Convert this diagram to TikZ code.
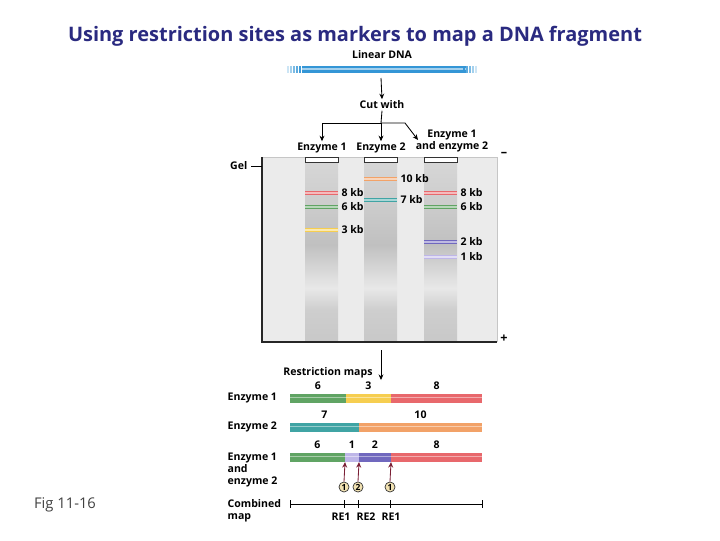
\documentclass[tikz,border=0pt]{standalone}
\usepackage{fontspec}
\setmainfont{Open Sans}
\usetikzlibrary{arrows.meta}
\definecolor{titleblue}{RGB}{42,42,128}
\definecolor{dnablue}{RGB}{52,150,214}
\definecolor{gelbg}{RGB}{235,235,235}
\definecolor{lnT}{RGB}{214,214,214}
\definecolor{lnB}{RGB}{206,206,206}
\definecolor{lnD}{RGB}{192,192,192}
\definecolor{lnL}{RGB}{232,232,232}
\definecolor{lnC}{RGB}{200,200,200}
\definecolor{cred}{RGB}{232,104,108}
\definecolor{cgreen}{RGB}{96,164,100}
\definecolor{cyellow}{RGB}{246,206,80}
\definecolor{corange}{RGB}{242,162,104}
\definecolor{cteal}{RGB}{64,164,164}
\definecolor{cpurple}{RGB}{112,104,190}
\definecolor{clav}{RGB}{190,182,232}
\definecolor{sitered}{RGB}{122,31,53}
\definecolor{sitefill}{RGB}{242,226,178}
\pgfdeclareverticalshading{lane}{100bp}{color(0bp)=(lnC); color(25bp)=(lnC); color(34bp)=(lnB); color(40bp)=(lnL); color(52bp)=(lnD); color(65bp)=(lnB); color(75bp)=(lnT); color(100bp)=(lnT)}
\tikzset{
	lbl/.style={font=\bfseries\fontsize{7.5}{8.5}\selectfont, inner sep=1pt},
	site/.style={circle, draw=black!80, fill=sitefill, line width=0.5pt, inner sep=0.6pt, font=\bfseries\fontsize{6}{6}\selectfont},
	cut/.style={->, line width=0.6pt}
}
\begin{document}
\begin{tikzpicture}[x=0.025cm, y=-0.025cm, >={Stealth[length=4pt,width=3.5pt]}]
	\useasboundingbox (0,0) rectangle (720,540);
	\node[font=\bfseries\fontsize{14.2}{16}\selectfont, text=titleblue] (title) at (355,36) {Using restriction sites as markers to map a DNA fragment};
	\node[font=\fontsize{10.5}{12}\selectfont, text=black!75] (fig) at (65,505) {Fig 11-16};

	% linear DNA
	\node[lbl] (dna) at (382,55) {Linear DNA};
	\fill[dnablue] (302,66) rectangle (466,73);
	\draw[white!55!dnablue, line width=0.9pt] (302,69) -- (466,69);
	\foreach \i/\o in {0/0.25, 3/0.45, 6/0.65, 9/0.8, 12/0.95}
	{
		\fill[dnablue, opacity=\o] (287+\i,66) rectangle +(1.6,7);
		\fill[dnablue, opacity=\o] (477-\i,66) rectangle +(-1.6,7);
	}
	\coordinate (dnab) at (381,78);
	\node[lbl] (cutw) at (382,105) {Cut with};
	\draw[cut] (dnab) -- (cutw.north);

	% three digests
	\node[lbl] (e1) at (322,148) {Enzyme 1};
	\node[lbl] (e2) at (381,148) {Enzyme 2};
	\node[lbl, align=center] (e12) at (452,141) {Enzyme 1\\and enzyme 2};
	\coordinate (split) at (381,123);
	\coordinate (kink) at (405,123);
	\coordinate (e12in) at (418,140);
	\draw[line width=0.6pt] (cutw.south) -- (split);
	\draw[cut] (split) -| (e1.north);
	\draw[cut] (split) -- (e2.north);
	\draw[cut] (split) -- (kink) -- (e12in);

	% gel
	\fill[gelbg] (262,157) rectangle (497,342);
	\draw[gray!45, line width=0.5pt] (262,157) -- (497,157) -- (497,342);
	\foreach \x in {305, 364, 424}
	{
		\shade[shading=lane] (\x,162) rectangle (\x+33,342);
		\filldraw[fill=white, draw=black!80, line width=0.5pt] (\x,157) rectangle (\x+33,162.5);
	}
	\draw[black!85, line width=0.9pt] (262,157) -- (262,342) -- (497,342);
	\node[lbl, anchor=east] (gel) at (249,166) {Gel};
	\coordinate (gelw) at (262,166);
	\draw[line width=0.6pt] (gel.east) ++(2,0) -- (gelw);
	\node[font=\bfseries\fontsize{9}{9}\selectfont] (minus) at (504,154) {--};
	\node[font=\bfseries\fontsize{9}{9}\selectfont] (plus) at (504,339) {+};

	% bands
	\foreach \x/\y/\c/\t in {305/193/cred/8 kb, 305/207/cgreen/6 kb, 305/230/cyellow/3 kb, 364/179/corange/10 kb, 364/200/cteal/7 kb, 424/193/cred/8 kb, 424/207/cgreen/6 kb, 424/242/cpurple/2 kb, 424/257/clav/1 kb}
	{
		\draw[line width=3pt, \c] (\x,\y) -- +(33,0);
		\draw[line width=0.8pt, \c!45!white] (\x,\y) -- +(33,0);
		\node[lbl, anchor=west] (band\x\y) at (\x+35,\y) {\t};
	}

	% restriction maps
	\coordinate (gelb) at (381,350);
	\node[lbl] (rmaps) at (328,373) {Restriction maps};
	\coordinate (rin) at (381,380);
	\draw[cut] (gelb) -- (rin);
	\node[lbl, anchor=west] (m1) at (226,398) {Enzyme 1};
	\node[lbl, anchor=west] (m2) at (226,427) {Enzyme 2};
	\node[lbl, anchor=north west, align=left] (m12) at (226,451) {Enzyme 1\\and\\enzyme 2};
	\node[lbl, anchor=north west, align=left] (mc) at (226,498) {Combined\\map};
	\foreach \a/\b/\y/\c/\t in {290/346/398/cgreen/6, 346/391/398/cyellow/3, 391/482/398/cred/8, 290/359/427/cteal/7, 359/482/427/corange/10, 290/345/457/cgreen/6, 345/359/457/clav/1, 359/391/457/cpurple/2, 391/482/457/cred/8}
	{
		\fill[\c] (\a,\y-4.5) rectangle (\b,\y+4.5);
		\draw[line width=0.9pt, \c!55!white] (\a,\y-0.5) -- (\b,\y-0.5);
		\node[lbl] (seg\a\y) at ({(\a+\b)/2},\y-12) {\t};
	}

	% sites
	\foreach \x/\n in {344/1, 358/2, 390/1}
	{
		\node[site] (s\x) at (\x,487) {\n};
		\coordinate (t\x) at (\x+1,462);
		\draw[->, sitered, line width=0.6pt] (s\x.north) -- (t\x);
	}

	% combined map
	\draw[line width=0.6pt] (290,504) -- (482,504);
	\foreach \x in {290, 344, 358, 390, 482}
		\draw[line width=0.6pt] (\x,500) -- (\x,508);
	\foreach \x/\t in {341/RE1, 366/RE2, 391/RE1}
		\node[lbl] (re\x) at (\x,517) {\t};
\end{tikzpicture}
\end{document}
